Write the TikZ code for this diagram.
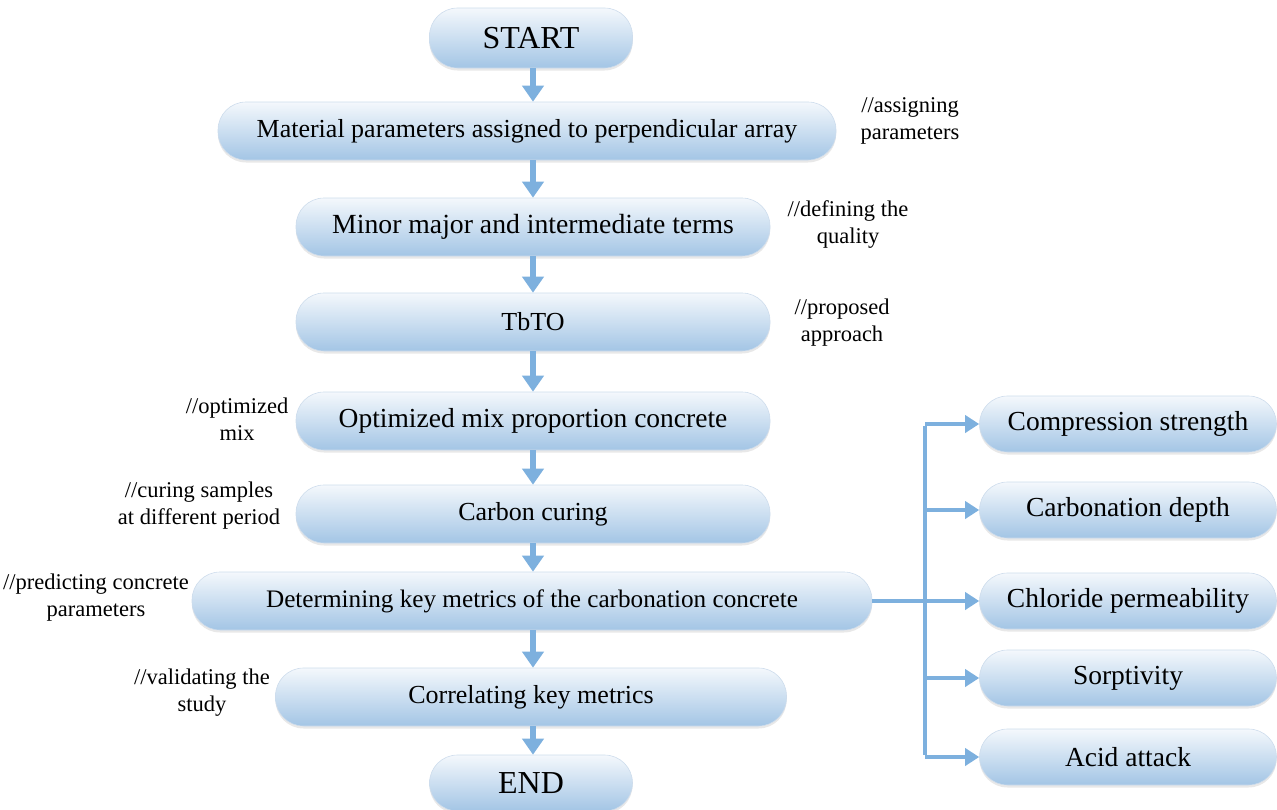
\documentclass[tikz,border=0pt]{standalone}
\usepackage{fontspec}
\setmainfont{Liberation Serif}
\usetikzlibrary{arrows.meta,shadows}
\definecolor{boxtop}{RGB}{244,248,252}
\definecolor{boxbot}{RGB}{163,197,229}
\definecolor{boxedge}{RGB}{205,220,236}
\definecolor{arrowc}{RGB}{125,176,222}
\tikzset{
  pill/.style={rounded corners=28pt, minimum height=#1, top color=boxtop, bottom color=boxbot,
     draw=boxedge, line width=0.6pt, inner sep=0pt,
     drop shadow={shadow xshift=0pt, shadow yshift=-2.5pt, opacity=0.18, fill=gray}},
  pill/.default=58pt,
  mtext/.style={font=\fontsize{#1}{30}\selectfont},
  mtext/.default=26,
  btext/.style={font=\fontsize{32}{36}\selectfont},
  rtext/.style={font=\fontsize{27.5}{30}\selectfont},
  note/.style={font=\fontsize{22.5}{27}\selectfont, align=center, inner sep=0pt},
  flow/.style={draw=arrowc, line width=5.5pt, -{Triangle[width=21pt,length=16pt]}},
  bus/.style={draw=arrowc, line width=4.3pt},
  busarrow/.style={draw=arrowc, line width=4.3pt, -{Triangle[width=17pt,length=14pt]}},
}
\begin{document}
\begin{tikzpicture}[x=1pt,y=-1pt]
\useasboundingbox (0,0) rectangle (1277,809);
% main column
\node[pill=60pt, btext, minimum width=203pt] (start) at (531,38) {START};
\node[pill, mtext, minimum width=618pt] (mat) at (527,131) {Material parameters assigned to perpendicular array};
\node[pill, mtext=27.7, minimum width=474pt] (minor) at (533,227) {Minor major and intermediate terms};
\node[pill, mtext, minimum width=474pt] (tbto) at (533,322) {TbTO};
\node[pill, mtext=27.5, minimum width=474pt] (opt) at (533,421) {Optimized mix proportion concrete};
\node[pill, mtext, minimum width=474pt] (carb) at (533,514) {Carbon curing};
\node[pill, mtext=25.2, minimum width=680pt] (det) at (532,601) {Determining key metrics of the carbonation concrete};
\node[pill, mtext, minimum width=511pt] (corr) at (531,697) {Correlating key metrics};
\node[pill=56pt, btext, minimum width=203pt] (end) at (531,783) {END};
% right column
\node[pill=56pt, rtext, minimum width=297pt] (comp) at (1128,424) {Compression strength};
\node[pill=56pt, rtext, minimum width=297pt] (cdep) at (1128,510) {Carbonation depth};
\node[pill=56pt, rtext, minimum width=297pt] (chl) at (1128,601) {Chloride permeability};
\node[pill=56pt, rtext, minimum width=297pt] (sorp) at (1128,678) {Sorptivity};
\node[pill=56pt, rtext, minimum width=297pt] (acid) at (1128,757) {Acid attack};
% notes
\node[note] (n1) at (910,121) {//assigning\\parameters};
\node[note] (n2) at (848,225) {//defining the\\quality};
\node[note] (n3) at (842,323) {//proposed\\approach};
\node[note] (n4) at (237,419) {//optimized\\mix};
\node[note] (n5) at (199,506) {//curing samples\\at different period};
\node[note] (n6) at (96,598) {//predicting concrete\\parameters};
\node[note] (n7) at (202,693) {//validating the\\study};
% vertical flow arrows
\draw[flow] (start.south -| 533,0) -- (mat.north -| 533,0);
\draw[flow] (mat.south -| 533,0) -- (minor.north -| 533,0);
\draw[flow] (minor.south -| 533,0) -- (tbto.north -| 533,0);
\draw[flow] (tbto.south -| 533,0) -- (opt.north -| 533,0);
\draw[flow] (opt.south -| 533,0) -- (carb.north -| 533,0);
\draw[flow] (carb.south -| 533,0) -- (det.north -| 533,0);
\draw[flow] (det.south -| 533,0) -- (corr.north -| 533,0);
\draw[flow] (corr.south -| 533,0) -- (end.north -| 533,0);
% bus
\coordinate (bt) at (925,424);
\coordinate (bb) at (925,757);
\draw[bus] ([yshift=-2.15pt]bt) -- ([yshift=2.15pt]bb);
\draw[busarrow] (bt) -- (comp.west);
\draw[busarrow] (bt |- cdep.west) -- (cdep.west);
\draw[busarrow] (det.east) -- (chl.west);
\draw[busarrow] (bt |- sorp.west) -- (sorp.west);
\draw[busarrow] (bb) -- (acid.west);
\end{tikzpicture}
\end{document}
